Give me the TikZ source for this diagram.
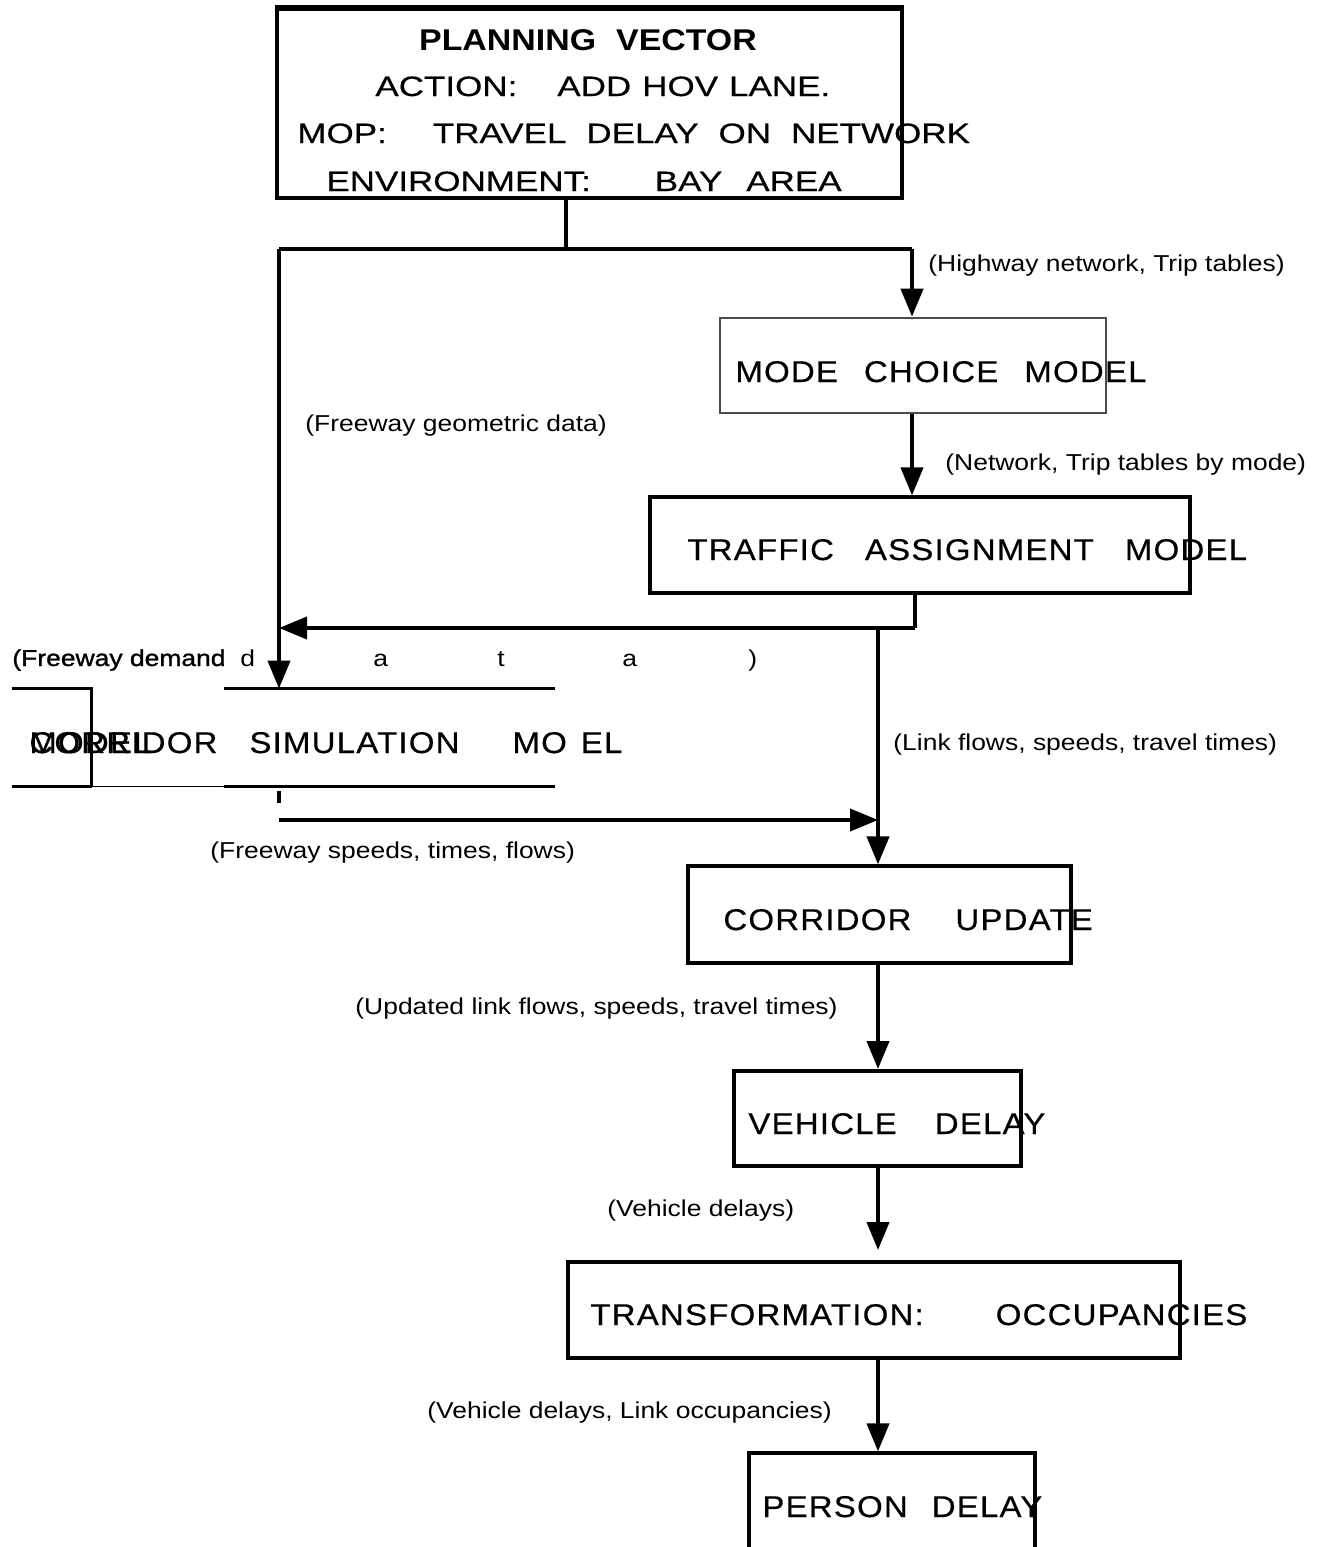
\documentclass[tikz,border=0pt]{standalone}
\usepackage{fontspec}
\setmainfont{Liberation Sans}
\newfontfamily\lblfont[FakeStretch=1.15]{Liberation Sans}
\newfontfamily\lblheavy[FakeStretch=1.15,FakeBold=1.2]{Liberation Sans}
\newfontfamily\boxfont[FakeStretch=1.1,LetterSpace=4,FakeBold=0.4]{Liberation Sans}
\newfontfamily\topfont[FakeStretch=1.25,FakeBold=0.4]{Liberation Sans}
\newfontfamily\headfont[FakeStretch=1.13]{Liberation Sans}
\usetikzlibrary{arrows.meta,fit,calc}

\begin{document}
\begin{tikzpicture}[x=0.5pt,y=-0.5pt,
  conn/.style={line width=2pt},
  arr/.style={conn,-{Triangle[length=14pt,width=11pt]}},
  boxe/.style={draw,line width=1.6pt,inner sep=0pt},
  boxtxt/.style={anchor=base west,inner sep=0pt,font=\boxfont\fontsize{15pt}{18pt}\selectfont},
  toptxt/.style={anchor=base west,inner sep=0pt,font=\topfont\fontsize{14pt}{17pt}\selectfont},
  lbl/.style={anchor=base west,inner sep=0pt,font=\lblfont\fontsize{11.5pt}{14pt}\selectfont},
]
\useasboundingbox[fill=white] (0,0) rectangle (1322,1547);

% ---- planning vector box
\node[boxe, fit={(277,9) (902,198)}] (top) {};
\draw[line width=2.2pt] (top.north west) -- (top.north east);
\node[anchor=base,inner sep=0pt,font=\headfont\bfseries\fontsize{15pt}{18pt}\selectfont] (tvec) at (588,50) {PLANNING\hspace{10pt}VECTOR};
\node[toptxt] (tact) at (375,96) {ACTION:\hspace{20pt}ADD\hspace{5.5pt}HOV\hspace{5.5pt}LANE.};
\node[toptxt] (tmop) at (297,143) {MOP:\hspace{23pt}TRAVEL\hspace{10pt}DELAY\hspace{10pt}ON\hspace{10pt}NETWORK};
\node[toptxt] (tenv) at (326,191) {ENVIRONMENT:\hspace{32pt}BAY\hspace{12pt}AREA};

% ---- model boxes
\node[boxe, draw=black!70, line width=1.3pt, fit={(720,318) (1106,413)}] (mode) {};
\node[boxtxt] (tmode) at (735,382) {MODE\hspace{13pt}CHOICE\hspace{13pt}MODEL};

\node[boxe, fit={(650,497) (1190,593)}] (traf) {};
\node[boxtxt] (ttraf) at (687,560) {TRAFFIC\hspace{15.5pt}ASSIGNMENT\hspace{15.5pt}MODEL};

\node[inner sep=0pt, fit={(12,689) (555,786)}] (sim) {};
\draw[line width=1.5pt] (sim.north west) -- ++(80,0) -- ++(0,97);
\draw[line width=1.5pt] (sim.south west) -- ++(80,0);
\draw[line width=0.8pt] ($(sim.south west)+(80,0)$) -- ++(132,0);
\draw[line width=1.6pt] ($(sim.north west)+(212,0)$) -- (sim.north east);
\draw[line width=1.6pt] ($(sim.south west)+(212,0)$) -- (sim.south east);
\node[boxtxt] (tsim) at (29,753) {CORRIDOR\hspace{16pt}SIMULATION\hspace{26.5pt}MO\hspace{7pt}EL};
\node[boxtxt] (tsim2) at (29,753) {MODEL};

\node[boxe, fit={(688,866) (1071,963)}] (upd) {};
\node[boxtxt] (tupd) at (723,930) {CORRIDOR\hspace{22pt}UPDATE};

\node[boxe, line width=2pt, fit={(734,1071) (1021,1166)}] (veh) {};
\node[boxtxt] (tveh) at (748,1134) {VEHICLE\hspace{19pt}DELAY};

\node[boxe, line width=2pt, fit={(568,1262) (1180,1358)}] (trn) {};
\node[boxtxt] (ttrn) at (590,1325) {TRANSFORMATION:\hspace{36pt}OCCUPANCIES};

\node[boxe, fit={(749,1453) (1035,1620)}] (per) {};
\node[boxtxt] (tper) at (762,1517) {PERSON\hspace{12pt}DELAY};

% ---- connectors
\coordinate (stem) at (566,249);
\coordinate (jl) at (279,249);
\coordinate (jr) at (912,249);
\coordinate (tb) at (915,628);
\coordinate (cx) at (878,628);
\coordinate (fs) at (279,820);

\draw[conn] (stem |- top.south) -- (stem);
\draw[conn] (jl) -- (jr);
\draw[arr] (jl) -- (jl |- sim.north);
\draw[arr] (jr) -- (jr |- mode.north);
\draw[arr] (jr |- mode.south) -- (jr |- traf.north);
\draw[conn] (tb |- traf.south) -- (tb);
\draw[arr] (tb) -- (jl |- tb);
\draw[arr] (cx) -- (cx |- upd.north);
\draw[conn] ($(jl |- sim.south)+(0,5)$) -- ++(0,12);
\draw[arr] (fs) -- (cx |- fs);
\draw[arr] (cx |- upd.south) -- (cx |- veh.north);
\draw[arr] (cx |- veh.south) -- ([yshift=5pt]cx |- trn.north);
\draw[arr] (cx |- trn.south) -- (cx |- per.north);

% ---- flow labels
\node[lbl] (lhw) at (928,271) {(Highway network, Trip tables)};
\node[lbl] (lnet) at (945,470) {(Network, Trip tables by mode)};
\node[lbl] (lgeo) at (305,431) {(Freeway geometric data)};
\node[lbl] (llink) at (893,750) {(Link flows, speeds, travel times)};
\node[lbl] (lfs) at (210,858) {(Freeway speeds, times, flows)};
\node[lbl] (lupd) at (355,1014) {(Updated link flows, speeds, travel times)};
\node[lbl] (lvd) at (607,1216) {(Vehicle delays)};
\node[lbl] (lvdl) at (427,1418) {(Vehicle delays, Link occupancies)};
\node[lbl, font=\lblheavy\fontsize{11.5pt}{14pt}\selectfont] (ldem) at (12,666) {(Freeway demand};
\foreach \ch/\xx [count=\i] in {d/240,a/373,t/497,a/622,{)}/748}
  \node[lbl] (ldem\i) at (\xx,666) {\ch};
\end{tikzpicture}
\end{document}
